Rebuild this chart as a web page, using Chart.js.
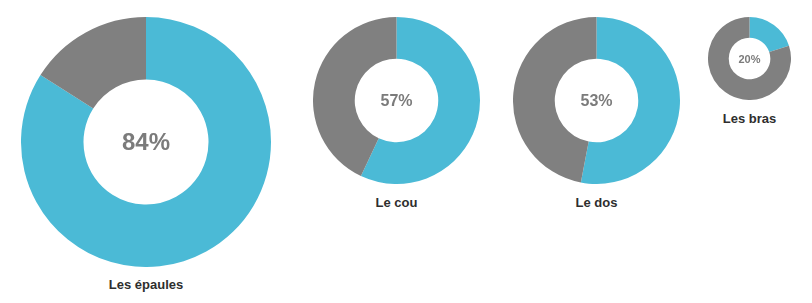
<!DOCTYPE html>
<html>
<head>
<meta charset="utf-8">
<script src="https://cdn.jsdelivr.net/npm/chart.js@4"></script>
<style>
  html, body { margin: 0; padding: 0; background: #fff; }
  body { width: 812px; height: 303px; position: relative; overflow: hidden; font-family: "Liberation Sans", Arial, sans-serif; }
  .wrap { position: absolute; }
  .lbl { position: absolute; font-weight: bold; font-size: 13px; color: #2e2e2e; white-space: nowrap; transform: translate(-50%, -50%); line-height: 1; }
</style>
</head>
<body>
<script>
// ---- data ----
const categories = ['Les épaules', 'Le cou', 'Le dos', 'Les bras'];
const percentValues = [84, 57, 53, 20];

// ---- layout / style (not data) ----
const layout = [
  { cx: 146,   cy: 142,  r: 125,  font: 24, labelY: 283.5 },
  { cx: 396.5, cy: 100.5, r: 83.5, font: 16, labelY: 202 },
  { cx: 596.5, cy: 100.5, r: 83.5, font: 16, labelY: 202 },
  { cx: 749.5, cy: 58.5, r: 41.5, font: 11, labelY: 117.5 }
];
const BLUE = '#4bbad6';
const GREY = '#808080';

const centerText = {
  id: 'centerText',
  afterDraw(chart, args, opts) {
    const arc = chart.getDatasetMeta(0).data[0];
    if (!arc) return;
    const ctx = chart.ctx;
    ctx.save();
    ctx.font = 'bold ' + opts.size + 'px "Liberation Sans", Arial, sans-serif';
    ctx.fillStyle = '#7b7b7b';
    ctx.textAlign = 'center';
    ctx.textBaseline = 'middle';
    ctx.fillText(opts.text, arc.x, arc.y + 1);
    ctx.restore();
  }
};

categories.forEach((name, i) => {
  const L = layout[i];
  const size = L.r * 2;
  const wrap = document.createElement('div');
  wrap.className = 'wrap';
  wrap.style.left = (L.cx - L.r) + 'px';
  wrap.style.top = (L.cy - L.r) + 'px';
  wrap.style.width = size + 'px';
  wrap.style.height = size + 'px';
  const cv = document.createElement('canvas');
  cv.width = size; cv.height = size;
  cv.style.width = size + 'px'; cv.style.height = size + 'px';
  wrap.appendChild(cv);
  document.body.appendChild(wrap);

  const lbl = document.createElement('div');
  lbl.className = 'lbl';
  lbl.textContent = name;
  lbl.style.left = L.cx + 'px';
  lbl.style.top = L.labelY + 'px';
  document.body.appendChild(lbl);

  const v = percentValues[i];
  new Chart(cv, {
    type: 'doughnut',
    data: {
      labels: [name, ''],
      datasets: [{
        data: [v, 100 - v],
        backgroundColor: [BLUE, GREY],
        borderWidth: 0,
        hoverOffset: 0,
        offset: 0
      }]
    },
    options: {
      responsive: false,
      animation: false,
      cutout: '50%',
      layout: { padding: 0 },
      events: [],
      plugins: {
        legend: { display: false },
        tooltip: { enabled: false },
        title: { display: false },
        centerText: { text: v + '%', size: L.font }
      }
    },
    plugins: [centerText]
  });
});
</script>
</body>
</html>
